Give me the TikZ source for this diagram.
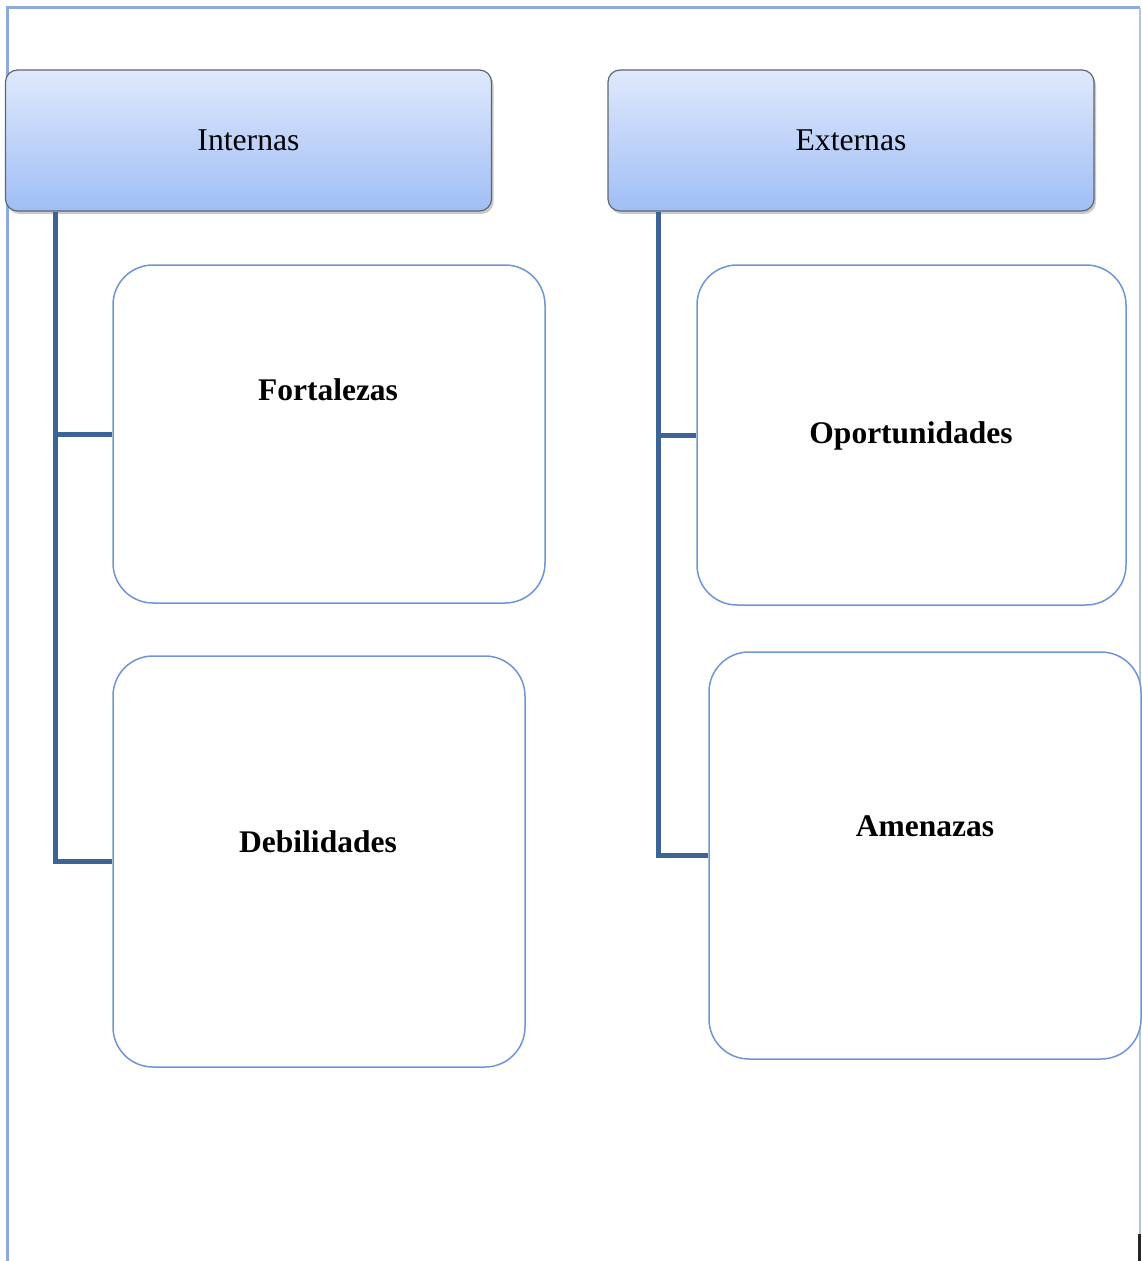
\documentclass[tikz,border=0pt]{standalone}
\usepackage{fontspec}
\setmainfont{Liberation Serif}
\usetikzlibrary{shadows}
\definecolor{frameblue}{HTML}{8EAADB}
\definecolor{boxblue}{HTML}{6E96D4}
\definecolor{linkblue}{HTML}{3D6497}
\definecolor{headtop}{HTML}{DFE9FC}
\definecolor{headbot}{HTML}{A0BEF6}
\definecolor{headedge}{HTML}{5F6670}
\tikzset{
  x=1pt, y=-1pt,
  header/.style={draw=headedge, line width=1.2pt, rounded corners=12pt,
    top color=headtop, bottom color=headbot,
    drop shadow={shadow xshift=2pt, shadow yshift=-3pt, opacity=0.35, fill=black!60},
    minimum width=486pt, minimum height=141pt, inner sep=0pt,
    font=\fontsize{31.7}{38}\selectfont},
  itembox/.style={draw=boxblue, line width=1.5pt, rounded corners=40pt,
    fill=white, inner sep=0pt},
  itemtext/.style={font=\fontsize{31.5}{38}\selectfont\bfseries, inner sep=0pt},
  link/.style={draw=linkblue, line width=5pt},
}
\begin{document}
\begin{tikzpicture}
\useasboundingbox (0,0) rectangle (1141,1261);
% outer frame
\draw[frameblue, line width=2.5pt] (7.5,1262) -- (7.5,7.5) -- (1140,7.5);
\draw[frameblue!70, line width=1.2pt] (1140,7.5) -- (1140,1262);
% headers
\node[header] (intH) at (248.5,140.5) {Internas};
\node[header] (extH) at (851,140.5) {Externas};
% items
\node[itembox, minimum width=432pt, minimum height=338pt] (fort) at (329,434) {};
\node[itembox, minimum width=412pt, minimum height=411pt] (deb) at (319,861.5) {};
\node[itembox, minimum width=429pt, minimum height=340pt] (opo) at (911.5,435) {};
\node[itembox, minimum width=432pt, minimum height=407pt] (ame) at (925,855.5) {};
\node[itemtext] (fortT) at (328,390) {Fortalezas};
\node[itemtext] (debT) at (318,842) {Debilidades};
\node[itemtext] (opoT) at (911,436) {Oportunidades};
\node[itemtext] (ameT) at (925,826) {Amenazas};
% connectors
\coordinate (intS) at ([xshift=50.5pt]intH.south west);
\coordinate (extS) at ([xshift=51pt]extH.south west);
\draw[link] (intS) |- (fort.west);
\draw[link] (intS) |- (deb.west);
\draw[link] (extS) |- (opo.west);
\draw[link] (extS) |- (ame.west);
% small dark mark bottom right
\fill[black!85] (1138,1234) rectangle (1141,1261);
\end{tikzpicture}
\end{document}
